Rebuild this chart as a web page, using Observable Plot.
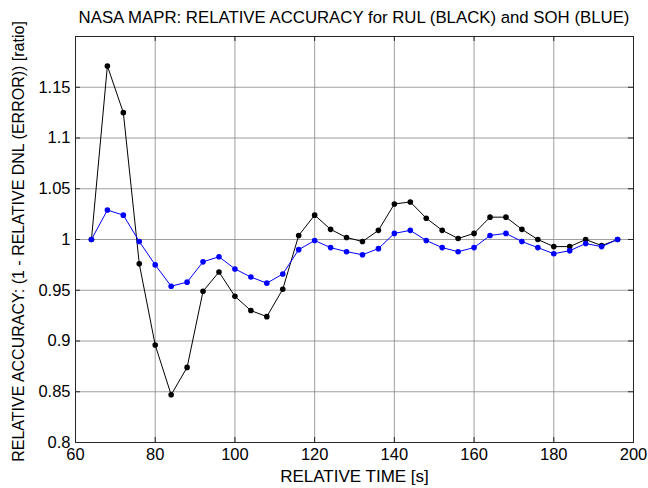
<!DOCTYPE html>
<html>
<head>
<meta charset="utf-8">
<script src="https://cdn.jsdelivr.net/npm/d3@7"></script>
<script src="https://cdn.jsdelivr.net/npm/@observablehq/plot@0.6"></script>
<style>
  body { margin: 0; background: #fff; font-family: "Liberation Sans", Arial, sans-serif; }
  #wrap { position: relative; width: 648px; height: 488px; overflow: hidden; }
  #title { height: 30px; width: 558px; margin-left: 75px; text-align: center; font-size: 16.8px; line-height: 20px; padding-top: 8px; box-sizing: border-box; color: #000; white-space: nowrap; }
</style>
</head>
<body>
<div id="wrap">
  <div id="title">NASA MAPR: RELATIVE ACCURACY for RUL (BLACK) and SOH (BLUE)</div>
  <div id="chart"></div>
</div>
<script>
const titleText = "NASA MAPR: RELATIVE ACCURACY for RUL (BLACK) and SOH (BLUE)";
const xLabel = "RELATIVE TIME [s]";
const yLabel = "RELATIVE ACCURACY: (1 - RELATIVE DNL (ERROR)) [ratio]";

const time = [64, 68, 72, 76, 80, 84, 88, 92, 96, 100, 104, 108, 112, 116, 120, 124, 128, 132, 136, 140, 144, 148, 152, 156, 160, 164, 168, 172, 176, 180, 184, 188, 192, 196];
const rul  = [1.000, 1.171, 1.125, 0.976, 0.896, 0.847, 0.874, 0.949, 0.968, 0.944, 0.930, 0.924, 0.951, 1.004, 1.024, 1.010, 1.002, 0.998, 1.009, 1.035, 1.037, 1.021, 1.009, 1.001, 1.006, 1.022, 1.022, 1.010, 1.000, 0.993, 0.993, 1.000, 0.994, 1.000];
const soh  = [1.000, 1.029, 1.024, 0.998, 0.975, 0.954, 0.958, 0.978, 0.983, 0.971, 0.963, 0.957, 0.966, 0.990, 0.999, 0.992, 0.988, 0.985, 0.991, 1.006, 1.009, 0.999, 0.992, 0.988, 0.992, 1.004, 1.006, 0.998, 0.992, 0.986, 0.989, 0.996, 0.993, 1.000];

const xTicks = [60, 80, 100, 120, 140, 160, 180, 200];
const yTicks = [0.8, 0.85, 0.9, 0.95, 1, 1.05, 1.1, 1.15];
const yGrid  = [0.8, 0.85, 0.9, 0.95, 1, 1.05, 1.1, 1.15, 1.2];

const rulData = time.map((t, i) => ({t, v: rul[i]}));
const sohData = time.map((t, i) => ({t, v: soh[i]}));

const W = 648, H = 458, ML = 75, MR = 15, MT = 6, MB = 46;
const frameW = W - ML - MR, frameH = H - MT - MB, tick = 5;
const axisColor = "#262626";
const font = "Liberation Sans, Arial, sans-serif";

const chart = Plot.plot({
  width: W,
  height: H,
  marginLeft: ML,
  marginRight: MR,
  marginTop: MT,
  marginBottom: MB,
  style: {fontFamily: font, fontSize: "16.5px", color: "#000", background: "#fff", overflow: "visible"},
  x: {domain: [60, 200], label: null},
  y: {domain: [0.8, 1.2], label: null},
  marks: [
    Plot.gridX(xTicks, {stroke: "#7f7f7f", strokeOpacity: 0.75, strokeWidth: 1}),
    Plot.gridY(yGrid, {stroke: "#7f7f7f", strokeOpacity: 0.75, strokeWidth: 1}),
    // inside tick marks (MATLAB style) on all four sides
    Plot.ruleX(xTicks, {stroke: axisColor, insetTop: frameH - tick}),
    Plot.ruleX(xTicks, {stroke: axisColor, insetBottom: frameH - tick}),
    Plot.ruleY(yGrid, {stroke: axisColor, insetRight: frameW - tick}),
    Plot.ruleY(yGrid, {stroke: axisColor, insetLeft: frameW - tick}),
    Plot.frame({stroke: axisColor, strokeWidth: 1}),
    Plot.axisX(xTicks, {tickSize: 0, tickPadding: 6, tickFormat: d => String(d), fontSize: 16.5, label: null}),
    Plot.axisY(yTicks, {tickSize: 0, tickPadding: 5, tickFormat: d => String(+d.toFixed(2)), fontSize: 16.5, label: null}),
    Plot.text([xLabel], {text: d => d, frameAnchor: "bottom", dy: 34, fontSize: 17, textAnchor: "middle", lineAnchor: "middle"}),
    Plot.text([yLabel], {text: d => d, frameAnchor: "left", dx: -57, dy: 2, rotate: -90, fontSize: 16, textAnchor: "middle", lineAnchor: "middle"}),
    Plot.line(rulData, {x: "t", y: "v", stroke: "#000", strokeWidth: 1}),
    Plot.dot(rulData, {x: "t", y: "v", r: 2.8, fill: "#000", stroke: "none"}),
    Plot.line(sohData, {x: "t", y: "v", stroke: "#0000ff", strokeWidth: 1}),
    Plot.dot(sohData, {x: "t", y: "v", r: 2.8, fill: "#0000ff", stroke: "none"})
  ]
});
document.getElementById("chart").appendChild(chart);
</script>
</body>
</html>
